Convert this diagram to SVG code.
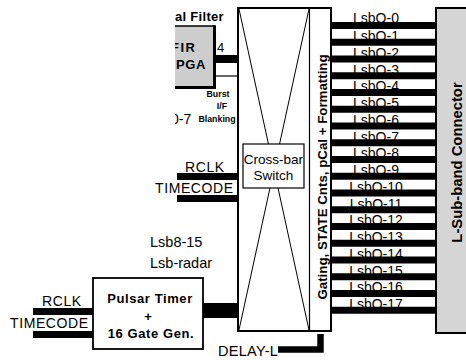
<svg xmlns="http://www.w3.org/2000/svg" width="466" height="360" viewBox="0 0 466 360">
<style>
text{font-family:"Liberation Sans",Arial,sans-serif;fill:#000}
.n14{font-size:14px;letter-spacing:0.6px}
.b13{font-size:13px;font-weight:bold}
.lab{font-size:14px;text-anchor:middle}
.sm{font-size:8.8px;font-weight:bold;text-anchor:middle}
.bus{stroke:#000;stroke-width:7}
.thin{stroke:#000;stroke-width:1.2;fill:none}
</style>
<defs>
<clipPath id="crop"><rect x="175" y="0" width="300" height="140"/></clipPath>
</defs>
<rect width="466" height="360" fill="#fff"/>

<g id="lsb-labels">
<text class="lab" x="376" y="22.5">LsbO-0</text>
<text class="lab" x="376" y="41">LsbO-1</text>
<text class="lab" x="376" y="57.75">LsbO-2</text>
<text class="lab" x="376" y="74.5">LsbO-3</text>
<text class="lab" x="376" y="91.25">LsbO-4</text>
<text class="lab" x="376" y="108">LsbO-5</text>
<text class="lab" x="376" y="124.75">LsbO-6</text>
<text class="lab" x="376" y="141.5">LsbO-7</text>
<text class="lab" x="376" y="158.25">LsbO-8</text>
<text class="lab" x="376" y="175">LsbO-9</text>
<text class="lab" x="376" y="191.75">LsbO-10</text>
<text class="lab" x="376" y="208.5">LsbO-11</text>
<text class="lab" x="376" y="225.25">LsbO-12</text>
<text class="lab" x="376" y="242">LsbO-13</text>
<text class="lab" x="376" y="258.75">LsbO-14</text>
<text class="lab" x="376" y="275.5">LsbO-15</text>
<text class="lab" x="376" y="292.25">LsbO-16</text>
<text class="lab" x="376" y="309">LsbO-17</text>
</g>

<g id="connectors">
<line class="bus" x1="331" y1="25.5" x2="436" y2="25.5"/>
<line class="bus" x1="331" y1="42.25" x2="436" y2="42.25"/>
<line class="bus" x1="331" y1="59" x2="436" y2="59"/>
<line class="bus" x1="331" y1="75.75" x2="436" y2="75.75"/>
<line class="bus" x1="331" y1="92.5" x2="436" y2="92.5"/>
<line class="bus" x1="331" y1="109.25" x2="436" y2="109.25"/>
<line class="bus" x1="331" y1="126" x2="436" y2="126"/>
<line class="bus" x1="331" y1="142.75" x2="436" y2="142.75"/>
<line class="bus" x1="331" y1="159.5" x2="436" y2="159.5"/>
<line class="bus" x1="331" y1="176.25" x2="436" y2="176.25"/>
<line class="bus" x1="331" y1="193" x2="436" y2="193"/>
<line class="bus" x1="331" y1="209.75" x2="436" y2="209.75"/>
<line class="bus" x1="331" y1="226.5" x2="436" y2="226.5"/>
<line class="bus" x1="331" y1="243.25" x2="436" y2="243.25"/>
<line class="bus" x1="331" y1="260" x2="436" y2="260"/>
<line class="bus" x1="331" y1="276.75" x2="436" y2="276.75"/>
<line class="bus" x1="331" y1="293.5" x2="436" y2="293.5"/>
<line class="bus" x1="331" y1="310.25" x2="436" y2="310.25"/>
<!-- FIR to main -->
<line stroke="#000" stroke-width="8" x1="214" y1="59" x2="238" y2="59"/>
<line class="thin" x1="214" y1="76" x2="238" y2="76"/>
<!-- RCLK / TIMECODE middle -->
<line class="bus" x1="177" y1="176.5" x2="238" y2="176.5"/>
<line class="bus" x1="177" y1="198.5" x2="238" y2="198.5"/>
<!-- RCLK / TIMECODE left -->
<line class="bus" x1="33" y1="311.5" x2="93" y2="311.5"/>
<line class="bus" x1="33" y1="334.5" x2="93" y2="334.5"/>
<!-- Pulsar to main -->
<line stroke="#000" stroke-width="15" x1="203" y1="310.5" x2="238" y2="310.5"/>
<!-- DELAY-L -->
<path d="M278 349.5 H320.5 V334" fill="none" stroke="#000" stroke-width="6.5"/>
</g>

<g id="text-labels">
<text class="n14" x="185" y="172">RCLK</text>
<text class="n14" x="155" y="193">TIMECODE</text>
<text class="n14" x="42" y="306">RCLK</text>
<text class="n14" x="10" y="328">TIMECODE</text>
<text font-size="14.5" x="150" y="247">Lsb8-15</text>
<text font-size="14.5" x="150" y="268">Lsb-radar</text>
<text font-size="14.5" letter-spacing="0.3" x="218" y="356">DELAY-L</text>
<text class="sm" x="218" y="97">Burst</text>
<text class="sm" x="222" y="109">I/F</text>
<text class="sm" x="217" y="122">Blanking</text>
<text font-size="13" x="217" y="52">4</text>
<g clip-path="url(#crop)">
<text class="b13" letter-spacing="0.3" x="175" y="21">al Filter</text>
<text font-size="14" x="171" y="124">0-7</text>
</g>
</g>

<g id="fir-fpga" clip-path="url(#crop)">
<rect x="160" y="26" width="54" height="61" fill="#cdcdcd" stroke="#000" stroke-width="1.5"/>
<line x1="214.5" y1="25.3" x2="214.5" y2="89" stroke="#000" stroke-width="3"/>
<line x1="160" y1="87.5" x2="216" y2="87.5" stroke="#000" stroke-width="3"/>
<text class="b13" letter-spacing="1.5" x="171" y="52">FIR</text>
<text class="b13" letter-spacing="0.6" x="176" y="69">PGA</text>
</g>

<g id="main-box">
<rect x="238" y="8" width="93" height="323" fill="#fff" stroke="#000" stroke-width="2"/>
<line class="thin" x1="309.5" y1="8" x2="309.5" y2="331" stroke-width="1.5"/>
<line x1="239" y1="9" x2="309" y2="330" stroke="#000" stroke-width="1"/>
<line x1="309" y1="9" x2="239" y2="330" stroke="#000" stroke-width="1"/>
<text transform="translate(326.5,177) rotate(-90)" font-size="13.3" font-weight="bold" text-anchor="middle">Gating, STATE Cnts, pCal + Formatting</text>
</g>

<g id="crossbar-switch">
<rect x="243" y="144" width="61" height="44" fill="#fff" stroke="#000" stroke-width="1.2"/>
<text font-size="13.5" text-anchor="middle" x="273.5" y="164">Cross-bar</text>
<text font-size="13.5" text-anchor="middle" x="273.5" y="180">Switch</text>
</g>

<g id="pulsar-timer">
<rect x="93" y="278" width="110" height="71" fill="#fff" stroke="#000" stroke-width="1.8"/>
<text class="b13" letter-spacing="0.6" text-anchor="middle" x="150" y="303">Pulsar Timer</text>
<text class="b13" text-anchor="middle" x="148" y="321">+</text>
<text class="b13" letter-spacing="0.6" text-anchor="middle" x="151" y="338">16 Gate Gen.</text>
</g>

<g id="lsub-connector">
<rect x="436" y="8" width="40" height="325" fill="#d5d5d5" stroke="#000" stroke-width="2"/>
<text transform="translate(462,162.5) rotate(-90)" font-size="14.8" font-weight="bold" text-anchor="middle">L-Sub-band Connector</text>
</g>
</svg>
